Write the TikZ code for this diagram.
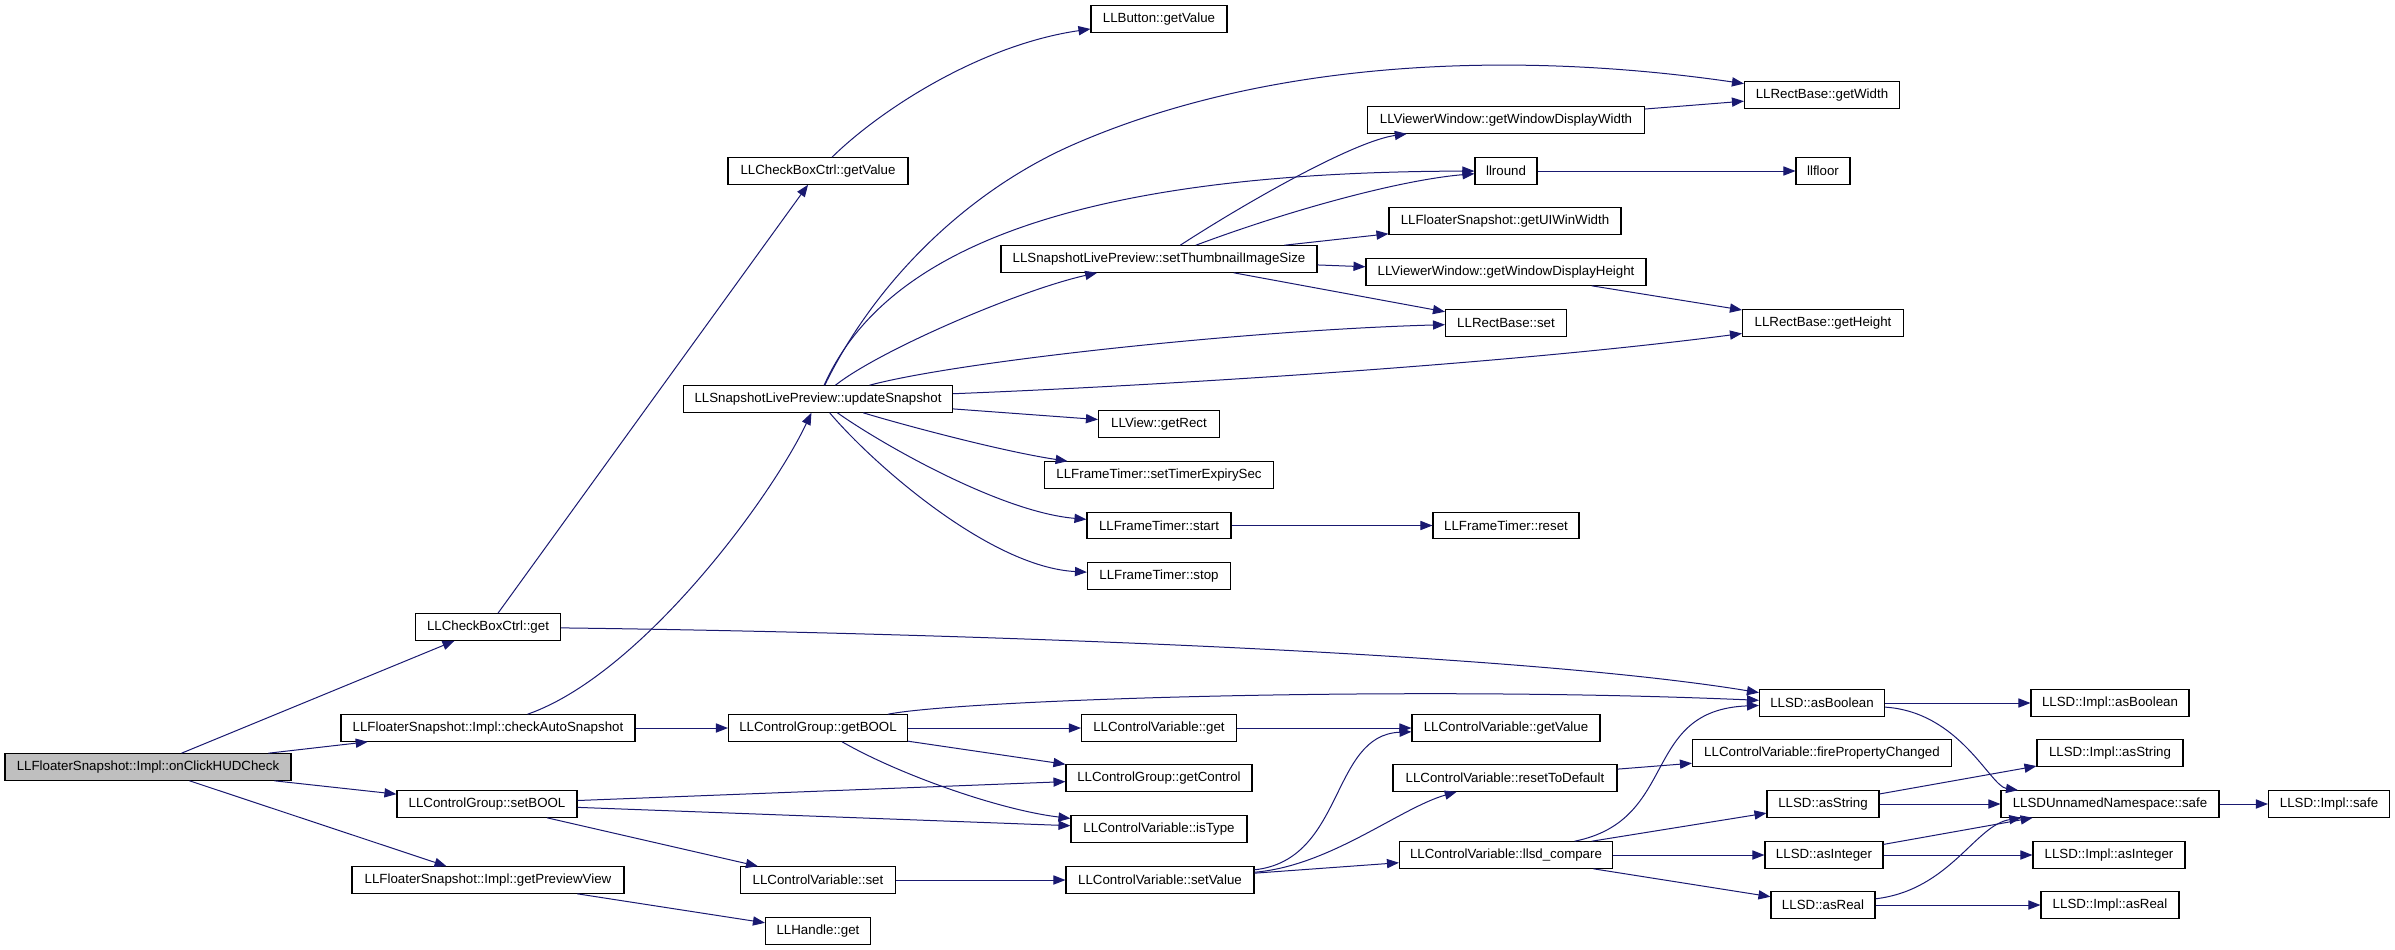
\documentclass[tikz,border=0pt]{standalone}
\usepackage{fontspec}
\setmainfont{Liberation Sans}
\usetikzlibrary{arrows.meta}
\definecolor{edgeblue}{RGB}{25,25,112}
\definecolor{rootgray}{RGB}{191,191,191}
\tikzset{
  fn/.style={draw=black, line width=0.55pt, fill=white, inner sep=0pt,
    minimum height=13.25pt, font=\fontsize{6.65pt}{8pt}\selectfont, text=black},
  rootfn/.style={fn, fill=rootgray},
  edge/.style={draw=edgeblue, line width=0.5pt,
    -{Triangle[length=6pt,width=4.6pt]}, fill=none},
}
\begin{document}
\begin{tikzpicture}[x=0.5pt, y=-0.5pt]
\useasboundingbox (0,0) rectangle (2395,949);
% column 0
\node[rootfn, minimum width=143pt] (root) at (148,767) {LLFloaterSnapshot::Impl::onClickHUDCheck};
% column 1
\node[fn, minimum width=72.5pt] (cbget) at (488,627) {LLCheckBoxCtrl::get};
\node[fn, minimum width=147pt] (cas) at (488,728) {LLFloaterSnapshot::Impl::checkAutoSnapshot};
\node[fn, minimum width=90pt] (setbool) at (487,804) {LLControlGroup::setBOOL};
\node[fn, minimum width=136pt] (gpv) at (488,880) {LLFloaterSnapshot::Impl::getPreviewView};
% column 2
\node[fn, minimum width=90pt] (cbgv) at (818,171) {LLCheckBoxCtrl::getValue};
\node[fn, minimum width=134.5pt] (us) at (818,399) {LLSnapshotLivePreview::updateSnapshot};
\node[fn, minimum width=89.5pt] (getbool) at (818,728) {LLControlGroup::getBOOL};
\node[fn, minimum width=77.5pt] (cvset) at (818,880) {LLControlVariable::set};
\node[fn, minimum width=52.5pt] (hget) at (818,931) {LLHandle::get};
% column 3
\node[fn, minimum width=68pt] (btn) at (1159,19) {LLButton::getValue};
\node[fn, minimum width=158pt] (thumb) at (1159,259) {LLSnapshotLivePreview::setThumbnailImageSize};
\node[fn, minimum width=60.5pt] (rect) at (1159,424) {LLView::getRect};
\node[fn, minimum width=114.5pt] (expiry) at (1159,475) {LLFrameTimer::setTimerExpirySec};
\node[fn, minimum width=72pt] (start) at (1159,525.5) {LLFrameTimer::start};
\node[fn, minimum width=71.5pt] (stop) at (1159,576) {LLFrameTimer::stop};
\node[fn, minimum width=77.5pt] (cvget) at (1159,728) {LLControlVariable::get};
\node[fn, minimum width=93pt] (getctrl) at (1159,778) {LLControlGroup::getControl};
\node[fn, minimum width=88pt] (istype) at (1159,829) {LLControlVariable::isType};
\node[fn, minimum width=94pt] (setval) at (1160,880) {LLControlVariable::setValue};
% column 4
\node[fn, minimum width=138.5pt] (gwdw) at (1506,120) {LLViewerWindow::getWindowDisplayWidth};
\node[fn, minimum width=31pt] (llround) at (1506,171) {llround};
\node[fn, minimum width=116pt] (uiw) at (1505,221) {LLFloaterSnapshot::getUIWinWidth};
\node[fn, minimum width=140pt] (gwdh) at (1506,272) {LLViewerWindow::getWindowDisplayHeight};
\node[fn, minimum width=60.5pt] (rset) at (1506,323) {LLRectBase::set};
\node[fn, minimum width=73pt] (reset) at (1506,525.5) {LLFrameTimer::reset};
\node[fn, minimum width=94pt] (cvgetv) at (1506,728) {LLControlVariable::getValue};
\node[fn, minimum width=112pt] (rtd) at (1505,778) {LLControlVariable::resetToDefault};
\node[fn, minimum width=106.5pt] (cmp) at (1506,855) {LLControlVariable::llsd\_compare};
% column 5
\node[fn, minimum width=77.5pt] (getw) at (1822,95) {LLRectBase::getWidth};
\node[fn, minimum width=27pt] (llfloor) at (1823,171) {llfloor};
\node[fn, minimum width=80.5pt] (geth) at (1823,323) {LLRectBase::getHeight};
\node[fn, minimum width=62.5pt] (asbool) at (1822,703) {LLSD::asBoolean};
\node[fn, minimum width=129.5pt] (fire) at (1822,753) {LLControlVariable::firePropertyChanged};
\node[fn, minimum width=56pt] (asstr) at (1823,804) {LLSD::asString};
\node[fn, minimum width=59pt] (asint) at (1824,855) {LLSD::asInteger};
\node[fn, minimum width=52pt] (asreal) at (1823,905) {LLSD::asReal};
% column 6
\node[fn, minimum width=79pt] (iasbool) at (2110,703) {LLSD::Impl::asBoolean};
\node[fn, minimum width=73pt] (iasstr) at (2110,753) {LLSD::Impl::asString};
\node[fn, minimum width=109pt] (safe) at (2110,804) {LLSDUnnamedNamespace::safe};
\node[fn, minimum width=76pt] (iasint) at (2109,855) {LLSD::Impl::asInteger};
\node[fn, minimum width=69pt] (iasreal) at (2110,905) {LLSD::Impl::asReal};
% column 7
\node[fn, minimum width=60.5pt] (isafe) at (2329,804) {LLSD::Impl::safe};

% edges from root
\draw[edge] (root) -- (cbget);
\draw[edge] (root) -- (cas);
\draw[edge] (root) -- (setbool);
\draw[edge] (root) -- (gpv);
% column 1 edges
\draw[edge] (cbget) -- (cbgv);
\draw[edge] (cbget) .. controls (900,632) and (1500,650) .. (asbool);
\draw[edge] (cas) .. controls (640,675) and (770,500) .. (us);
\draw[edge] (cas) -- (getbool);
\draw[edge] (setbool) -- (getctrl);
\draw[edge] (setbool) -- (istype);
\draw[edge] (setbool) -- (cvset);
\draw[edge] (gpv) -- (hget);
% column 2 edges
\draw[edge] (cbgv) .. controls (880,110) and (980,45) .. (btn);
\draw[edge] (us) .. controls (876,280) and (969.5,189) .. (1077,143)
  .. controls (1279,56) and (1527,52) .. (getw);
\draw[edge] (us) .. controls (880,260) and (1050,172) .. (llround);
\draw[edge] (us) .. controls (880,350) and (1020,290) .. (thumb);
\draw[edge] (us) .. controls (960,361) and (1250,330) .. (rset);
\draw[edge] (us) .. controls (1150,386) and (1500,365) .. (geth);
\draw[edge] (us) -- (rect);
\draw[edge] (us) .. controls (900,424) and (1000,451) .. (expiry);
\draw[edge] (us) .. controls (880,443) and (1000,512) .. (start);
\draw[edge] (us) .. controls (873,464) and (990,567) .. (stop);
\draw[edge] (getbool) .. controls (960,700) and (1400,685) .. (asbool);
\draw[edge] (getbool) -- (cvget);
\draw[edge] (getbool) -- (getctrl);
\draw[edge] (getbool) .. controls (900,775) and (1000,810) .. (istype);
\draw[edge] (cvset) -- (setval);
% column 3 edges
\draw[edge] (thumb) .. controls (1250,200) and (1355,141) .. (gwdw);
\draw[edge] (thumb) .. controls (1290,210) and (1400,180) .. (llround);
\draw[edge] (thumb) -- (uiw);
\draw[edge] (thumb) -- (gwdh);
\draw[edge] (thumb) -- (rset);
\draw[edge] (start) -- (reset);
\draw[edge] (cvget) -- (cvgetv);
\draw[edge] (setval) .. controls (1345,860) and (1330,735) .. (cvgetv);
\draw[edge] (setval) .. controls (1330,866) and (1400,808) .. (rtd);
\draw[edge] (setval) -- (cmp);
% column 4 edges
\draw[edge] (gwdw) -- (getw);
\draw[edge] (llround) -- (llfloor);
\draw[edge] (gwdh) -- (geth);
\draw[edge] (rtd) -- (fire);
\draw[edge] (cmp) .. controls (1680,820) and (1640,710) .. (asbool);
\draw[edge] (cmp) -- (asstr);
\draw[edge] (cmp) -- (asint);
\draw[edge] (cmp) -- (asreal);
% column 5 edges
\draw[edge] (asbool) -- (iasbool);
\draw[edge] (asbool) .. controls (1960,712) and (1990,786) .. (safe);
\draw[edge] (asstr) -- (iasstr);
\draw[edge] (asstr) -- (safe);
\draw[edge] (asint) -- (safe);
\draw[edge] (asint) -- (iasint);
\draw[edge] (asreal) .. controls (1950,890) and (1975,825) .. (safe);
\draw[edge] (asreal) -- (iasreal);
% column 6 edges
\draw[edge] (safe) -- (isafe);
\end{tikzpicture}
\end{document}
